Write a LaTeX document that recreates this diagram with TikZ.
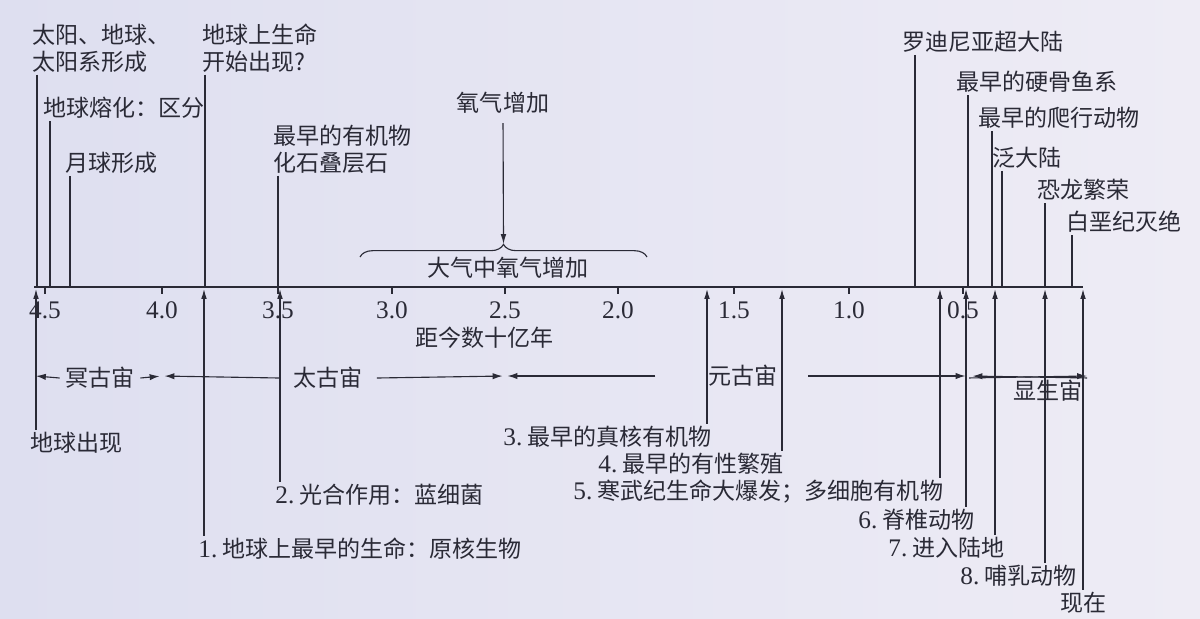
\documentclass[tikz,border=0pt]{standalone}
\usepackage{fontspec}
\setmainfont{Liberation Serif}
\newfontfamily\cjk[Scale=0.91]{Noto Sans CJK SC}
\usepackage{tikz}
\usetikzlibrary{arrows.meta,decorations.pathreplacing}
\definecolor{ink}{RGB}{42,42,54}
\definecolor{paperL}{RGB}{222,223,240}
\definecolor{paperR}{RGB}{238,236,245}
\newcommand{\evno}[1]{{\rmfamily #1.}\ }
\tikzstyle{lbl}=[inner sep=1.5pt, text=ink, anchor=west, align=left, font=\fontsize{18}{19.2}\selectfont\cjk]
\tikzstyle{num}=[inner sep=1pt, text=ink, font=\fontsize{18}{20}\selectfont]
\tikzstyle{timeline}=[draw=ink, line width=1.8pt]
\tikzstyle{tick}=[draw=ink, line width=0.9pt]
\tikzstyle{tie}=[draw=ink, line width=0.8pt]
\tikzstyle{rise}=[draw=ink, line width=0.8pt, -{Latex[length=7pt,width=4pt]}]
\tikzstyle{eon}=[draw=ink, line width=0.8pt, -{Latex[length=7pt,width=4.5pt]}]
\begin{document}
\begin{tikzpicture}[x=0.025cm, y=-0.025cm]
      \useasboundingbox (0,0) rectangle (1200,618);
      \fill[left color=paperL, right color=paperR] (0,0) rectangle (1200,618);
      % time axis
      \coordinate(a0) at (34,287);
      \coordinate(a1) at (1083,287);
      \draw[timeline] (a0) to (a1);
      \foreach \v/\x in {4.5/45, 4.0/162, 3.5/278, 3.0/392, 2.5/505, 2.0/618, 1.5/734, 1.0/849, 0.5/963}{
        \draw[tick] (\x,287) to (\x,294);
        \node(tk\x)[num] at (\x,310){\v};
      }
      \node(unit)[lbl] at (413,338){距今数十亿年};
      % events above the axis
      \node(sun)[lbl] at (30,48){太阳、地球、\\太阳系形成};
      \node(melt)[lbl] at (41,108){地球熔化：区分};
      \node(moon)[lbl] at (63,163){月球形成};
      \node(lifeq)[lbl] at (200,48){地球上生命\\开始出现?};
      \node(fossil)[lbl] at (271,149){最早的有机物\\化石叠层石};
      \node(rod)[lbl] at (900,42){罗迪尼亚超大陆};
      \node(fish)[lbl] at (954,82){最早的硬骨鱼系};
      \node(rept)[lbl] at (976,118){最早的爬行动物};
      \node(pang)[lbl] at (990,158){泛大陆};
      \node(dino)[lbl] at (1035,190){恐龙繁荣};
      \node(kpg)[lbl] at (1064,222){白垩纪灭绝};
      \coordinate(psun) at (37,287);
      \coordinate(pmelt) at (50,287);
      \coordinate(pmoon) at (70,287);
      \coordinate(plifeq) at (205,287);
      \coordinate(pfossil) at (278,287);
      \coordinate(prod) at (915,287);
      \coordinate(pfish) at (968,287);
      \coordinate(prept) at (992,287);
      \coordinate(ppang) at (1002,287);
      \coordinate(pdino) at (1045,287);
      \coordinate(pkpg) at (1072,287);
      \draw[tie] (sun.south -| psun) to (psun);
      \draw[tie] (melt.south -| pmelt) to (pmelt);
      \draw[tie] (moon.south -| pmoon) to (pmoon);
      \draw[tie] (lifeq.south -| plifeq) to (plifeq);
      \draw[tie] (fossil.south -| pfossil) to (pfossil);
      \draw[tie] (rod.south -| prod) to (prod);
      \draw[tie] (fish.south -| pfish) to (pfish);
      \draw[tie] (rept.south -| prept) to (prept);
      \draw[tie] (pang.south -| ppang) to (ppang);
      \draw[tie] (dino.south -| pdino) to (pdino);
      \draw[tie] (kpg.south -| pkpg) to (pkpg);
      % oxygen
      \node(oxy)[lbl, anchor=center] at (503,103){氧气增加};
      \coordinate(br0) at (360,257);
      \coordinate(br1) at (647,257);
      \coordinate(btip) at (503.5,244);
      \draw[tie, decorate, decoration={brace, amplitude=9pt}] (br0) to (br1);
      \draw[rise, shorten <=5pt] (oxy.south) to (btip);
      \node(air)[lbl] at (425,268){大气中氧气增加};
      % events below the axis
      \node(earth)[lbl] at (28,443){地球出现};
      \node(b1)[lbl] at (196,549){\evno{1}地球上最早的生命：原核生物};
      \node(b2)[lbl] at (273,495){\evno{2}光合作用：蓝细菌};
      \node(b3)[lbl] at (501,437){\evno{3}最早的真核有机物};
      \node(b4)[lbl] at (596,464){\evno{4}最早的有性繁殖};
      \node(b5)[lbl] at (571,492){\evno{5}寒武纪生命大爆发；多细胞有机物};
      \node(b6)[lbl] at (856,520){\evno{6}脊椎动物};
      \node(b7)[lbl] at (886,548){\evno{7}进入陆地};
      \node(b8)[lbl] at (958,576){\evno{8}哺乳动物};
      \node(now)[lbl] at (1058,603){现在};
      \coordinate(qearth) at (36,289);
      \coordinate(q1) at (204,289);
      \coordinate(q2) at (280,289);
      \coordinate(q3) at (707,289);
      \coordinate(q4) at (782,289);
      \coordinate(q5) at (940,289);
      \coordinate(q6) at (966,289);
      \coordinate(q7) at (995,289);
      \coordinate(q8) at (1045,289);
      \coordinate(qnow) at (1083,289);
      \draw[rise] (earth.north -| qearth) to (qearth);
      \draw[rise] (b1.north -| q1) to (q1);
      \draw[rise] (b2.north -| q2) to (q2);
      \draw[rise] (b3.north -| q3) to (q3);
      \draw[rise] (b4.north -| q4) to (q4);
      \draw[rise] (b5.north -| q5) to (q5);
      \draw[rise] (b6.north -| q6) to (q6);
      \draw[rise] (b7.north -| q7) to (q7);
      \draw[rise] (b8.north -| q8) to (q8);
      \draw[rise] (now.north -| qnow) to (qnow);
      % eons
      \coordinate(e0) at (36,376);
      \coordinate(e1) at (162,376);
      \coordinate(e2) at (505,376);
      \coordinate(e3) at (969,376);
      \coordinate(e4) at (1087,376);
      \node(had)[lbl, anchor=center, inner xsep=4pt] at (100,378){冥古宙};
      \node(arc)[lbl, anchor=center, inner xsep=10pt] at (328,378){太古宙};
      \node(pro)[lbl, anchor=center] at (743,376){元古宙};
      \node(pha)[lbl, anchor=center] at (1048,391){显生宙};
      \draw[eon] (had.west) to (e0);
      \draw[eon, shorten >=1.8pt] (had.east) to (e1);
      \draw[eon, shorten >=1.8pt] (arc.west) to (e1);
      \draw[eon, shorten >=1.8pt] (arc.east) to (e2);
      \draw[eon, shorten >=1.8pt] ([xshift=-36pt]pro.west) to (e2);
      \draw[eon, shorten >=2.5pt] ([xshift=20pt]pro.east) to (e3);
      \draw[eon, shorten >=2.5pt] (pha.north -| e4) to (e3);
      \draw[eon] (pha.north -| e3) to (e4);
\end{tikzpicture}
\end{document}
